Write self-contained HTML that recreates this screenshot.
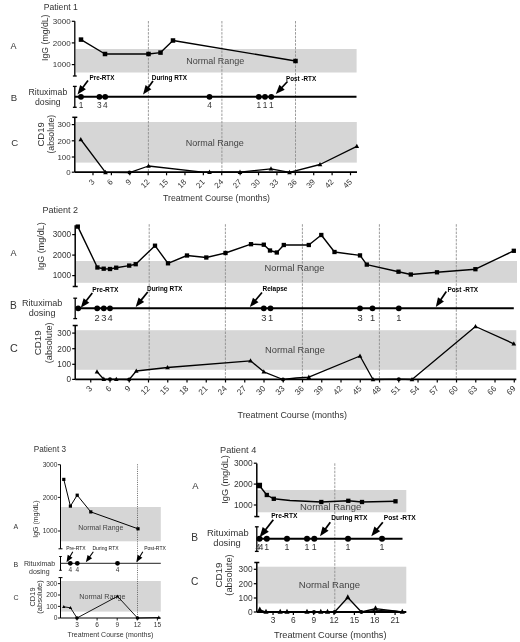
<!DOCTYPE html>
<html><head><meta charset="utf-8"><style>
html,body{margin:0;padding:0;background:#fff;}
svg{display:block;will-change:transform;font-family:"Liberation Sans",sans-serif;}
</style></head><body>
<svg width="520" height="642" viewBox="0 0 520 642">
<rect width="520" height="642" fill="#fff"/>
<rect x="75.50" y="49.00" width="281.10" height="23.50" fill="#d6d6d6"/>
<rect x="75.50" y="122.00" width="281.30" height="40.60" fill="#d6d6d6"/>
<rect x="75.90" y="261.00" width="441.10" height="21.80" fill="#d6d6d6"/>
<rect x="75.90" y="330.20" width="440.40" height="39.60" fill="#d6d6d6"/>
<rect x="61.10" y="507.00" width="99.70" height="34.30" fill="#d6d6d6"/>
<rect x="61.10" y="581.00" width="99.70" height="30.60" fill="#d6d6d6"/>
<rect x="257.50" y="490.00" width="148.80" height="22.30" fill="#d6d6d6"/>
<rect x="257.50" y="566.70" width="148.80" height="36.80" fill="#d6d6d6"/>
<text x="43.80" y="10.20" font-size="8.6" text-anchor="start" fill="#333">Patient 1</text>
<line x1="148.40" y1="21.00" x2="148.40" y2="172.00" stroke="#8a8a8a" stroke-width="0.85" stroke-dasharray="2.5,1.2"/>
<line x1="221.90" y1="21.00" x2="221.90" y2="172.00" stroke="#8a8a8a" stroke-width="0.85" stroke-dasharray="2.5,1.2"/>
<line x1="295.50" y1="21.00" x2="295.50" y2="172.00" stroke="#8a8a8a" stroke-width="0.85" stroke-dasharray="2.5,1.2"/>
<text x="186.20" y="64.20" font-size="9.0" text-anchor="start" fill="#444">Normal Range</text>
<text x="10.60" y="49.20" font-size="9" text-anchor="start" fill="#333">A</text>
<text x="48.40" y="37.70" font-size="8.7" text-anchor="middle" fill="#333" transform="rotate(-90 48.4 37.7)">IgG (mg/dL)</text>
<line x1="74.80" y1="21.30" x2="74.80" y2="76.00" stroke="#000" stroke-width="1.3"/>
<line x1="72.90" y1="76.00" x2="76.70" y2="76.00" stroke="#000" stroke-width="1.3"/>
<line x1="71.80" y1="21.30" x2="74.80" y2="21.30" stroke="#000" stroke-width="1.2"/>
<text x="70.60" y="24.10" font-size="8.0" text-anchor="end" fill="#333">3000</text>
<line x1="71.80" y1="42.90" x2="74.80" y2="42.90" stroke="#000" stroke-width="1.2"/>
<text x="70.60" y="45.70" font-size="8.0" text-anchor="end" fill="#333">2000</text>
<line x1="71.80" y1="64.60" x2="74.80" y2="64.60" stroke="#000" stroke-width="1.2"/>
<text x="70.60" y="67.40" font-size="8.0" text-anchor="end" fill="#333">1000</text>
<polyline points="81.00,39.60 105.00,54.00 148.50,54.00 160.50,52.60 173.00,40.50 295.50,61.00" fill="none" stroke="#000" stroke-width="1.4" stroke-linejoin="round"/>
<rect x="78.75" y="37.35" width="4.50" height="4.50" fill="#000"/>
<rect x="102.75" y="51.75" width="4.50" height="4.50" fill="#000"/>
<rect x="146.25" y="51.75" width="4.50" height="4.50" fill="#000"/>
<rect x="158.25" y="50.35" width="4.50" height="4.50" fill="#000"/>
<rect x="170.75" y="38.25" width="4.50" height="4.50" fill="#000"/>
<rect x="293.25" y="58.75" width="4.50" height="4.50" fill="#000"/>
<text x="10.80" y="100.70" font-size="9.6" text-anchor="start" fill="#333">B</text>
<text x="28.60" y="95.00" font-size="8.7" text-anchor="start" fill="#333">Rituximab</text>
<text x="35.00" y="105.20" font-size="8.7" text-anchor="start" fill="#333">dosing</text>
<line x1="74.80" y1="86.40" x2="74.80" y2="107.30" stroke="#000" stroke-width="1.3"/>
<line x1="72.90" y1="86.40" x2="76.70" y2="86.40" stroke="#000" stroke-width="1.3"/>
<line x1="72.90" y1="107.30" x2="76.70" y2="107.30" stroke="#000" stroke-width="1.3"/>
<line x1="74.80" y1="96.80" x2="356.50" y2="96.80" stroke="#000" stroke-width="2"/>
<circle cx="81.00" cy="96.80" r="2.90" fill="#000"/>
<circle cx="99.40" cy="96.80" r="2.90" fill="#000"/>
<circle cx="105.20" cy="96.80" r="2.90" fill="#000"/>
<circle cx="209.50" cy="96.80" r="2.90" fill="#000"/>
<circle cx="258.80" cy="96.80" r="2.90" fill="#000"/>
<circle cx="265.00" cy="96.80" r="2.90" fill="#000"/>
<circle cx="271.30" cy="96.80" r="2.90" fill="#000"/>
<text x="81.00" y="108.20" font-size="8.3" text-anchor="middle" fill="#333">1</text>
<text x="99.40" y="108.20" font-size="8.3" text-anchor="middle" fill="#333">3</text>
<text x="105.20" y="108.20" font-size="8.3" text-anchor="middle" fill="#333">4</text>
<text x="209.50" y="108.20" font-size="8.3" text-anchor="middle" fill="#333">4</text>
<text x="258.80" y="108.20" font-size="8.3" text-anchor="middle" fill="#333">1</text>
<text x="265.00" y="108.20" font-size="8.3" text-anchor="middle" fill="#333">1</text>
<text x="271.30" y="108.20" font-size="8.3" text-anchor="middle" fill="#333">1</text>
<text x="89.50" y="79.50" font-size="6.3" text-anchor="start" font-weight="bold" fill="#000">Pre-RTX</text>
<line x1="88.00" y1="80.50" x2="82.42" y2="87.94" stroke="#000" stroke-width="1.7"/>
<polygon points="77.50,94.50 80.14,84.98 85.90,89.30" fill="#000"/>
<text x="151.80" y="79.50" font-size="6.4" text-anchor="start" font-weight="bold" fill="#000">During RTX</text>
<line x1="153.00" y1="81.00" x2="147.88" y2="87.91" stroke="#000" stroke-width="1.7"/>
<polygon points="143.00,94.50 145.58,84.96 151.37,89.25" fill="#000"/>
<text x="286.00" y="80.50" font-size="6.3" text-anchor="start" font-weight="bold" fill="#000">Post -RTX</text>
<line x1="287.50" y1="81.50" x2="281.40" y2="88.01" stroke="#000" stroke-width="1.7"/>
<polygon points="275.80,94.00 279.46,84.82 284.72,89.74" fill="#000"/>
<text x="11.30" y="145.80" font-size="9.6" text-anchor="start" fill="#333">C</text>
<text x="44.30" y="134.40" font-size="9.5" text-anchor="middle" fill="#333" transform="rotate(-90 44.3 134.4)">CD19</text>
<text x="54.00" y="134.20" font-size="8.7" text-anchor="middle" fill="#333" transform="rotate(-90 54 134.2)">(absolute)</text>
<text x="185.70" y="146.00" font-size="9.0" text-anchor="start" fill="#444">Normal Range</text>
<line x1="74.80" y1="117.30" x2="74.80" y2="172.00" stroke="#000" stroke-width="1.5"/>
<line x1="72.30" y1="117.30" x2="77.30" y2="117.30" stroke="#000" stroke-width="1.5"/>
<line x1="71.80" y1="124.60" x2="74.80" y2="124.60" stroke="#000" stroke-width="1.2"/>
<text x="70.60" y="127.36" font-size="7.9" text-anchor="end" fill="#333">300</text>
<line x1="71.80" y1="140.80" x2="74.80" y2="140.80" stroke="#000" stroke-width="1.2"/>
<text x="70.60" y="143.56" font-size="7.9" text-anchor="end" fill="#333">200</text>
<line x1="71.80" y1="157.00" x2="74.80" y2="157.00" stroke="#000" stroke-width="1.2"/>
<text x="70.60" y="159.76" font-size="7.9" text-anchor="end" fill="#333">100</text>
<line x1="71.80" y1="172.20" x2="74.80" y2="172.20" stroke="#000" stroke-width="1.2"/>
<text x="70.60" y="174.96" font-size="7.9" text-anchor="end" fill="#333">0</text>
<line x1="74.80" y1="172.20" x2="357.00" y2="172.20" stroke="#000" stroke-width="1.8"/>
<line x1="92.99" y1="172.20" x2="92.99" y2="175.30" stroke="#000" stroke-width="1.2"/>
<text x="94.99" y="182.50" font-size="7.9" text-anchor="end" fill="#333" transform="rotate(-45 94.993 182.5)">3</text>
<line x1="111.39" y1="172.20" x2="111.39" y2="175.30" stroke="#000" stroke-width="1.2"/>
<text x="113.39" y="182.50" font-size="7.9" text-anchor="end" fill="#333" transform="rotate(-45 113.386 182.5)">6</text>
<line x1="129.78" y1="172.20" x2="129.78" y2="175.30" stroke="#000" stroke-width="1.2"/>
<text x="131.78" y="182.50" font-size="7.9" text-anchor="end" fill="#333" transform="rotate(-45 131.779 182.5)">9</text>
<line x1="148.17" y1="172.20" x2="148.17" y2="175.30" stroke="#000" stroke-width="1.2"/>
<text x="150.17" y="182.50" font-size="7.9" text-anchor="end" fill="#333" transform="rotate(-45 150.172 182.5)">12</text>
<line x1="166.56" y1="172.20" x2="166.56" y2="175.30" stroke="#000" stroke-width="1.2"/>
<text x="168.56" y="182.50" font-size="7.9" text-anchor="end" fill="#333" transform="rotate(-45 168.565 182.5)">15</text>
<line x1="184.96" y1="172.20" x2="184.96" y2="175.30" stroke="#000" stroke-width="1.2"/>
<text x="186.96" y="182.50" font-size="7.9" text-anchor="end" fill="#333" transform="rotate(-45 186.958 182.5)">18</text>
<line x1="203.35" y1="172.20" x2="203.35" y2="175.30" stroke="#000" stroke-width="1.2"/>
<text x="205.35" y="182.50" font-size="7.9" text-anchor="end" fill="#333" transform="rotate(-45 205.351 182.5)">21</text>
<line x1="221.74" y1="172.20" x2="221.74" y2="175.30" stroke="#000" stroke-width="1.2"/>
<text x="223.74" y="182.50" font-size="7.9" text-anchor="end" fill="#333" transform="rotate(-45 223.744 182.5)">24</text>
<line x1="240.14" y1="172.20" x2="240.14" y2="175.30" stroke="#000" stroke-width="1.2"/>
<text x="242.14" y="182.50" font-size="7.9" text-anchor="end" fill="#333" transform="rotate(-45 242.137 182.5)">27</text>
<line x1="258.53" y1="172.20" x2="258.53" y2="175.30" stroke="#000" stroke-width="1.2"/>
<text x="260.53" y="182.50" font-size="7.9" text-anchor="end" fill="#333" transform="rotate(-45 260.53 182.5)">30</text>
<line x1="276.92" y1="172.20" x2="276.92" y2="175.30" stroke="#000" stroke-width="1.2"/>
<text x="278.92" y="182.50" font-size="7.9" text-anchor="end" fill="#333" transform="rotate(-45 278.923 182.5)">33</text>
<line x1="295.32" y1="172.20" x2="295.32" y2="175.30" stroke="#000" stroke-width="1.2"/>
<text x="297.32" y="182.50" font-size="7.9" text-anchor="end" fill="#333" transform="rotate(-45 297.31600000000003 182.5)">36</text>
<line x1="313.71" y1="172.20" x2="313.71" y2="175.30" stroke="#000" stroke-width="1.2"/>
<text x="315.71" y="182.50" font-size="7.9" text-anchor="end" fill="#333" transform="rotate(-45 315.709 182.5)">39</text>
<line x1="332.10" y1="172.20" x2="332.10" y2="175.30" stroke="#000" stroke-width="1.2"/>
<text x="334.10" y="182.50" font-size="7.9" text-anchor="end" fill="#333" transform="rotate(-45 334.102 182.5)">42</text>
<line x1="350.50" y1="172.20" x2="350.50" y2="175.30" stroke="#000" stroke-width="1.2"/>
<text x="352.50" y="182.50" font-size="7.9" text-anchor="end" fill="#333" transform="rotate(-45 352.495 182.5)">45</text>
<polyline points="80.80,139.50 105.50,172.40 129.50,172.60 148.50,166.00 202.50,172.20 209.50,172.20 240.00,172.20 271.00,168.80 289.50,172.40 320.00,164.50 356.80,146.30" fill="none" stroke="#000" stroke-width="1.3" stroke-linejoin="round"/>
<polygon points="80.80,136.88 83.10,141.25 78.50,141.25" fill="#000"/>
<polygon points="105.50,169.78 107.80,174.15 103.20,174.15" fill="#000"/>
<polygon points="148.50,163.38 150.80,167.75 146.20,167.75" fill="#000"/>
<polygon points="209.50,169.58 211.80,173.95 207.20,173.95" fill="#000"/>
<polygon points="240.00,169.58 242.30,173.95 237.70,173.95" fill="#000"/>
<polygon points="271.00,166.18 273.30,170.55 268.70,170.55" fill="#000"/>
<polygon points="289.50,169.78 291.80,174.15 287.20,174.15" fill="#000"/>
<polygon points="320.00,161.88 322.30,166.25 317.70,166.25" fill="#000"/>
<polygon points="356.80,143.68 359.10,148.05 354.50,148.05" fill="#000"/>
<circle cx="129.50" cy="172.60" r="2.00" fill="#000"/>
<text x="163.00" y="200.80" font-size="8.74" text-anchor="start" fill="#333">Treatment Course (months)</text>
<text x="42.50" y="213.20" font-size="9.0" text-anchor="start" fill="#333">Patient 2</text>
<line x1="149.20" y1="224.20" x2="149.20" y2="379.30" stroke="#8a8a8a" stroke-width="0.85" stroke-dasharray="2.5,1.2"/>
<line x1="225.40" y1="224.20" x2="225.40" y2="379.30" stroke="#8a8a8a" stroke-width="0.85" stroke-dasharray="2.5,1.2"/>
<line x1="302.40" y1="224.20" x2="302.40" y2="379.30" stroke="#8a8a8a" stroke-width="0.85" stroke-dasharray="2.5,1.2"/>
<line x1="379.40" y1="224.20" x2="379.40" y2="379.30" stroke="#8a8a8a" stroke-width="0.85" stroke-dasharray="2.5,1.2"/>
<line x1="456.30" y1="224.20" x2="456.30" y2="379.30" stroke="#8a8a8a" stroke-width="0.85" stroke-dasharray="2.5,1.2"/>
<text x="264.50" y="271.30" font-size="9.3" text-anchor="start" fill="#444">Normal Range</text>
<text x="10.60" y="256.30" font-size="9" text-anchor="start" fill="#333">A</text>
<text x="44.20" y="246.30" font-size="9.0" text-anchor="middle" fill="#333" transform="rotate(-90 44.2 246.3)">IgG (mg/dL)</text>
<line x1="75.20" y1="225.30" x2="75.20" y2="286.50" stroke="#000" stroke-width="1.5"/>
<line x1="72.70" y1="286.50" x2="77.70" y2="286.50" stroke="#000" stroke-width="1.5"/>
<line x1="72.20" y1="234.60" x2="75.20" y2="234.60" stroke="#000" stroke-width="1.2"/>
<text x="71.00" y="237.47" font-size="8.2" text-anchor="end" fill="#333">3000</text>
<line x1="72.20" y1="255.10" x2="75.20" y2="255.10" stroke="#000" stroke-width="1.2"/>
<text x="71.00" y="257.97" font-size="8.2" text-anchor="end" fill="#333">2000</text>
<line x1="72.20" y1="275.60" x2="75.20" y2="275.60" stroke="#000" stroke-width="1.2"/>
<text x="71.00" y="278.47" font-size="8.2" text-anchor="end" fill="#333">1000</text>
<polyline points="77.80,226.60 97.40,267.50 103.70,268.70 110.00,269.00 116.20,267.70 129.20,265.60 135.70,264.20 155.00,245.70 168.00,263.30 187.00,255.50 206.30,257.50 225.50,253.00 251.00,244.20 263.80,244.70 270.00,250.50 276.80,252.50 283.80,245.00 308.80,245.00 321.30,235.00 334.50,252.00 360.00,255.40 366.80,264.60 398.50,271.70 410.80,274.50 437.00,272.30 475.40,269.20 513.80,250.80" fill="none" stroke="#000" stroke-width="1.4" stroke-linejoin="round"/>
<rect x="75.65" y="224.45" width="4.30" height="4.30" fill="#000"/>
<rect x="95.25" y="265.35" width="4.30" height="4.30" fill="#000"/>
<rect x="101.55" y="266.55" width="4.30" height="4.30" fill="#000"/>
<rect x="107.85" y="266.85" width="4.30" height="4.30" fill="#000"/>
<rect x="114.05" y="265.55" width="4.30" height="4.30" fill="#000"/>
<rect x="127.05" y="263.45" width="4.30" height="4.30" fill="#000"/>
<rect x="133.55" y="262.05" width="4.30" height="4.30" fill="#000"/>
<rect x="152.85" y="243.55" width="4.30" height="4.30" fill="#000"/>
<rect x="165.85" y="261.15" width="4.30" height="4.30" fill="#000"/>
<rect x="184.85" y="253.35" width="4.30" height="4.30" fill="#000"/>
<rect x="204.15" y="255.35" width="4.30" height="4.30" fill="#000"/>
<rect x="223.35" y="250.85" width="4.30" height="4.30" fill="#000"/>
<rect x="248.85" y="242.05" width="4.30" height="4.30" fill="#000"/>
<rect x="261.65" y="242.55" width="4.30" height="4.30" fill="#000"/>
<rect x="267.85" y="248.35" width="4.30" height="4.30" fill="#000"/>
<rect x="274.65" y="250.35" width="4.30" height="4.30" fill="#000"/>
<rect x="281.65" y="242.85" width="4.30" height="4.30" fill="#000"/>
<rect x="306.65" y="242.85" width="4.30" height="4.30" fill="#000"/>
<rect x="319.15" y="232.85" width="4.30" height="4.30" fill="#000"/>
<rect x="332.35" y="249.85" width="4.30" height="4.30" fill="#000"/>
<rect x="357.85" y="253.25" width="4.30" height="4.30" fill="#000"/>
<rect x="364.65" y="262.45" width="4.30" height="4.30" fill="#000"/>
<rect x="396.35" y="269.55" width="4.30" height="4.30" fill="#000"/>
<rect x="408.65" y="272.35" width="4.30" height="4.30" fill="#000"/>
<rect x="434.85" y="270.15" width="4.30" height="4.30" fill="#000"/>
<rect x="473.25" y="267.05" width="4.30" height="4.30" fill="#000"/>
<rect x="511.65" y="248.65" width="4.30" height="4.30" fill="#000"/>
<text x="10.00" y="309.30" font-size="10.2" text-anchor="start" fill="#333">B</text>
<text x="22.00" y="305.70" font-size="9.1" text-anchor="start" fill="#333">Rituximab</text>
<text x="28.70" y="315.80" font-size="9.1" text-anchor="start" fill="#333">dosing</text>
<line x1="75.20" y1="298.20" x2="75.20" y2="318.60" stroke="#000" stroke-width="1.3"/>
<line x1="73.30" y1="298.20" x2="77.10" y2="298.20" stroke="#000" stroke-width="1.3"/>
<line x1="73.30" y1="318.60" x2="77.10" y2="318.60" stroke="#000" stroke-width="1.3"/>
<line x1="75.20" y1="308.30" x2="513.80" y2="308.30" stroke="#000" stroke-width="2"/>
<circle cx="78.20" cy="308.30" r="2.90" fill="#000"/>
<circle cx="97.20" cy="308.30" r="2.90" fill="#000"/>
<circle cx="103.80" cy="308.30" r="2.90" fill="#000"/>
<circle cx="110.00" cy="308.30" r="2.90" fill="#000"/>
<circle cx="263.80" cy="308.30" r="2.90" fill="#000"/>
<circle cx="270.50" cy="308.30" r="2.90" fill="#000"/>
<circle cx="360.00" cy="308.30" r="2.90" fill="#000"/>
<circle cx="372.50" cy="308.30" r="2.90" fill="#000"/>
<circle cx="398.80" cy="308.30" r="2.90" fill="#000"/>
<text x="97.20" y="321.40" font-size="9.3" text-anchor="middle" fill="#333">2</text>
<text x="103.80" y="321.40" font-size="9.3" text-anchor="middle" fill="#333">3</text>
<text x="110.00" y="321.40" font-size="9.3" text-anchor="middle" fill="#333">4</text>
<text x="263.80" y="321.40" font-size="9.3" text-anchor="middle" fill="#333">3</text>
<text x="270.50" y="321.40" font-size="9.3" text-anchor="middle" fill="#333">1</text>
<text x="360.00" y="321.40" font-size="9.3" text-anchor="middle" fill="#333">3</text>
<text x="372.50" y="321.40" font-size="9.3" text-anchor="middle" fill="#333">1</text>
<text x="398.80" y="321.40" font-size="9.3" text-anchor="middle" fill="#333">1</text>
<text x="92.30" y="292.00" font-size="6.6" text-anchor="start" font-weight="bold" fill="#000">Pre-RTX</text>
<line x1="92.30" y1="293.00" x2="85.85" y2="301.24" stroke="#000" stroke-width="1.7"/>
<polygon points="80.80,307.70 83.63,298.24 89.30,302.67" fill="#000"/>
<text x="147.00" y="291.30" font-size="6.45" text-anchor="start" font-weight="bold" fill="#000">During RTX</text>
<line x1="147.70" y1="292.00" x2="140.75" y2="300.62" stroke="#000" stroke-width="1.7"/>
<polygon points="135.60,307.00 138.57,297.58 144.18,302.10" fill="#000"/>
<text x="262.50" y="290.80" font-size="6.5" text-anchor="start" font-weight="bold" fill="#000">Relapse</text>
<line x1="262.00" y1="292.50" x2="255.08" y2="300.73" stroke="#000" stroke-width="1.7"/>
<polygon points="249.80,307.00 252.97,297.64 258.48,302.28" fill="#000"/>
<text x="447.40" y="291.80" font-size="6.45" text-anchor="start" font-weight="bold" fill="#000">Post -RTX</text>
<line x1="446.30" y1="291.50" x2="440.40" y2="300.21" stroke="#000" stroke-width="1.7"/>
<polygon points="435.80,307.00 437.98,297.36 443.94,301.40" fill="#000"/>
<text x="9.90" y="352.20" font-size="10.8" text-anchor="start" fill="#333">C</text>
<text x="40.60" y="342.80" font-size="9.8" text-anchor="middle" fill="#333" transform="rotate(-90 40.6 342.8)">CD19</text>
<text x="51.60" y="342.80" font-size="9.2" text-anchor="middle" fill="#333" transform="rotate(-90 51.6 342.8)">(absolute)</text>
<text x="265.00" y="352.60" font-size="9.3" text-anchor="start" fill="#444">Normal Range</text>
<line x1="75.20" y1="325.50" x2="75.20" y2="379.30" stroke="#000" stroke-width="1.5"/>
<line x1="72.70" y1="325.50" x2="77.70" y2="325.50" stroke="#000" stroke-width="1.5"/>
<line x1="72.20" y1="333.10" x2="75.20" y2="333.10" stroke="#000" stroke-width="1.2"/>
<text x="71.00" y="335.97" font-size="8.2" text-anchor="end" fill="#333">300</text>
<line x1="72.20" y1="348.70" x2="75.20" y2="348.70" stroke="#000" stroke-width="1.2"/>
<text x="71.00" y="351.57" font-size="8.2" text-anchor="end" fill="#333">200</text>
<line x1="72.20" y1="364.30" x2="75.20" y2="364.30" stroke="#000" stroke-width="1.2"/>
<text x="71.00" y="367.17" font-size="8.2" text-anchor="end" fill="#333">100</text>
<line x1="72.20" y1="379.40" x2="75.20" y2="379.40" stroke="#000" stroke-width="1.2"/>
<text x="71.00" y="382.27" font-size="8.2" text-anchor="end" fill="#333">0</text>
<line x1="75.20" y1="379.40" x2="516.30" y2="379.40" stroke="#000" stroke-width="1.8"/>
<line x1="90.75" y1="379.40" x2="90.75" y2="382.50" stroke="#000" stroke-width="1.2"/>
<text x="92.75" y="389.00" font-size="8.2" text-anchor="end" fill="#333" transform="rotate(-45 92.751 389.0)">3</text>
<line x1="110.00" y1="379.40" x2="110.00" y2="382.50" stroke="#000" stroke-width="1.2"/>
<text x="112.00" y="389.00" font-size="8.2" text-anchor="end" fill="#333" transform="rotate(-45 112.002 389.0)">6</text>
<line x1="129.25" y1="379.40" x2="129.25" y2="382.50" stroke="#000" stroke-width="1.2"/>
<text x="131.25" y="389.00" font-size="8.2" text-anchor="end" fill="#333" transform="rotate(-45 131.253 389.0)">9</text>
<line x1="148.50" y1="379.40" x2="148.50" y2="382.50" stroke="#000" stroke-width="1.2"/>
<text x="150.50" y="389.00" font-size="8.2" text-anchor="end" fill="#333" transform="rotate(-45 150.504 389.0)">12</text>
<line x1="167.75" y1="379.40" x2="167.75" y2="382.50" stroke="#000" stroke-width="1.2"/>
<text x="169.75" y="389.00" font-size="8.2" text-anchor="end" fill="#333" transform="rotate(-45 169.755 389.0)">15</text>
<line x1="187.01" y1="379.40" x2="187.01" y2="382.50" stroke="#000" stroke-width="1.2"/>
<text x="189.01" y="389.00" font-size="8.2" text-anchor="end" fill="#333" transform="rotate(-45 189.006 389.0)">18</text>
<line x1="206.26" y1="379.40" x2="206.26" y2="382.50" stroke="#000" stroke-width="1.2"/>
<text x="208.26" y="389.00" font-size="8.2" text-anchor="end" fill="#333" transform="rotate(-45 208.257 389.0)">21</text>
<line x1="225.51" y1="379.40" x2="225.51" y2="382.50" stroke="#000" stroke-width="1.2"/>
<text x="227.51" y="389.00" font-size="8.2" text-anchor="end" fill="#333" transform="rotate(-45 227.50799999999998 389.0)">24</text>
<line x1="244.76" y1="379.40" x2="244.76" y2="382.50" stroke="#000" stroke-width="1.2"/>
<text x="246.76" y="389.00" font-size="8.2" text-anchor="end" fill="#333" transform="rotate(-45 246.759 389.0)">27</text>
<line x1="264.01" y1="379.40" x2="264.01" y2="382.50" stroke="#000" stroke-width="1.2"/>
<text x="266.01" y="389.00" font-size="8.2" text-anchor="end" fill="#333" transform="rotate(-45 266.01 389.0)">30</text>
<line x1="283.26" y1="379.40" x2="283.26" y2="382.50" stroke="#000" stroke-width="1.2"/>
<text x="285.26" y="389.00" font-size="8.2" text-anchor="end" fill="#333" transform="rotate(-45 285.26099999999997 389.0)">33</text>
<line x1="302.51" y1="379.40" x2="302.51" y2="382.50" stroke="#000" stroke-width="1.2"/>
<text x="304.51" y="389.00" font-size="8.2" text-anchor="end" fill="#333" transform="rotate(-45 304.512 389.0)">36</text>
<line x1="321.76" y1="379.40" x2="321.76" y2="382.50" stroke="#000" stroke-width="1.2"/>
<text x="323.76" y="389.00" font-size="8.2" text-anchor="end" fill="#333" transform="rotate(-45 323.76300000000003 389.0)">39</text>
<line x1="341.01" y1="379.40" x2="341.01" y2="382.50" stroke="#000" stroke-width="1.2"/>
<text x="343.01" y="389.00" font-size="8.2" text-anchor="end" fill="#333" transform="rotate(-45 343.014 389.0)">42</text>
<line x1="360.26" y1="379.40" x2="360.26" y2="382.50" stroke="#000" stroke-width="1.2"/>
<text x="362.26" y="389.00" font-size="8.2" text-anchor="end" fill="#333" transform="rotate(-45 362.265 389.0)">45</text>
<line x1="379.52" y1="379.40" x2="379.52" y2="382.50" stroke="#000" stroke-width="1.2"/>
<text x="381.52" y="389.00" font-size="8.2" text-anchor="end" fill="#333" transform="rotate(-45 381.51599999999996 389.0)">48</text>
<line x1="398.77" y1="379.40" x2="398.77" y2="382.50" stroke="#000" stroke-width="1.2"/>
<text x="400.77" y="389.00" font-size="8.2" text-anchor="end" fill="#333" transform="rotate(-45 400.767 389.0)">51</text>
<line x1="418.02" y1="379.40" x2="418.02" y2="382.50" stroke="#000" stroke-width="1.2"/>
<text x="420.02" y="389.00" font-size="8.2" text-anchor="end" fill="#333" transform="rotate(-45 420.018 389.0)">54</text>
<line x1="437.27" y1="379.40" x2="437.27" y2="382.50" stroke="#000" stroke-width="1.2"/>
<text x="439.27" y="389.00" font-size="8.2" text-anchor="end" fill="#333" transform="rotate(-45 439.269 389.0)">57</text>
<line x1="456.52" y1="379.40" x2="456.52" y2="382.50" stroke="#000" stroke-width="1.2"/>
<text x="458.52" y="389.00" font-size="8.2" text-anchor="end" fill="#333" transform="rotate(-45 458.52 389.0)">60</text>
<line x1="475.77" y1="379.40" x2="475.77" y2="382.50" stroke="#000" stroke-width="1.2"/>
<text x="477.77" y="389.00" font-size="8.2" text-anchor="end" fill="#333" transform="rotate(-45 477.771 389.0)">63</text>
<line x1="495.02" y1="379.40" x2="495.02" y2="382.50" stroke="#000" stroke-width="1.2"/>
<text x="497.02" y="389.00" font-size="8.2" text-anchor="end" fill="#333" transform="rotate(-45 497.022 389.0)">66</text>
<line x1="514.27" y1="379.40" x2="514.27" y2="382.50" stroke="#000" stroke-width="1.2"/>
<text x="516.27" y="389.00" font-size="8.2" text-anchor="end" fill="#333" transform="rotate(-45 516.2729999999999 389.0)">69</text>
<polyline points="97.00,371.80 103.80,379.20 110.00,379.30 116.30,379.30 129.20,379.50 136.30,371.00 167.50,367.50 250.50,360.80 263.80,371.80 283.00,379.50 296.30,378.00 308.80,377.20 360.00,356.00 373.00,379.50 398.80,379.20 412.00,379.50 475.50,326.50 513.80,343.80" fill="none" stroke="#000" stroke-width="1.3" stroke-linejoin="round"/>
<polygon points="97.00,369.18 99.30,373.55 94.70,373.55" fill="#000"/>
<polygon points="103.80,376.58 106.10,380.95 101.50,380.95" fill="#000"/>
<polygon points="116.30,376.68 118.60,381.05 114.00,381.05" fill="#000"/>
<polygon points="136.30,368.38 138.60,372.75 134.00,372.75" fill="#000"/>
<polygon points="167.50,364.88 169.80,369.25 165.20,369.25" fill="#000"/>
<polygon points="250.50,358.18 252.80,362.55 248.20,362.55" fill="#000"/>
<polygon points="263.80,369.18 266.10,373.55 261.50,373.55" fill="#000"/>
<polygon points="308.80,374.58 311.10,378.95 306.50,378.95" fill="#000"/>
<polygon points="360.00,353.38 362.30,357.75 357.70,357.75" fill="#000"/>
<polygon points="373.00,376.88 375.30,381.25 370.70,381.25" fill="#000"/>
<polygon points="412.00,376.88 414.30,381.25 409.70,381.25" fill="#000"/>
<polygon points="475.50,323.88 477.80,328.25 473.20,328.25" fill="#000"/>
<polygon points="513.80,341.18 516.10,345.55 511.50,345.55" fill="#000"/>
<circle cx="110.00" cy="379.30" r="2.00" fill="#000"/>
<circle cx="129.20" cy="379.50" r="2.00" fill="#000"/>
<circle cx="283.00" cy="379.50" r="2.00" fill="#000"/>
<circle cx="398.80" cy="379.20" r="2.00" fill="#000"/>
<text x="237.50" y="417.60" font-size="8.95" text-anchor="start" fill="#333">Treatment Course (months)</text>
<text x="33.70" y="452.10" font-size="8.2" text-anchor="start" fill="#333">Patient 3</text>
<line x1="137.50" y1="464.30" x2="137.50" y2="618.00" stroke="#444" stroke-width="0.8" stroke-dasharray="1,1.2"/>
<text x="78.20" y="529.50" font-size="7.0" text-anchor="start" fill="#444">Normal Range</text>
<text x="13.40" y="528.80" font-size="7" text-anchor="start" fill="#333">A</text>
<text x="38.30" y="519.10" font-size="7.0" text-anchor="middle" fill="#333" transform="rotate(-90 38.3 519.1)">IgG (mg/dL)</text>
<line x1="60.50" y1="464.70" x2="60.50" y2="548.80" stroke="#000" stroke-width="1.0"/>
<line x1="58.50" y1="548.80" x2="62.50" y2="548.80" stroke="#000" stroke-width="1.0"/>
<line x1="57.90" y1="464.70" x2="60.50" y2="464.70" stroke="#000" stroke-width="0.9"/>
<text x="57.30" y="467.01" font-size="6.6" text-anchor="end" fill="#333">3000</text>
<line x1="57.90" y1="497.40" x2="60.50" y2="497.40" stroke="#000" stroke-width="0.9"/>
<text x="57.30" y="499.71" font-size="6.6" text-anchor="end" fill="#333">2000</text>
<line x1="57.90" y1="531.00" x2="60.50" y2="531.00" stroke="#000" stroke-width="0.9"/>
<text x="57.30" y="533.31" font-size="6.6" text-anchor="end" fill="#333">1000</text>
<polyline points="63.80,479.40 70.40,506.10 77.20,495.20 90.80,511.90 138.00,528.80" fill="none" stroke="#000" stroke-width="1.0" stroke-linejoin="round"/>
<rect x="62.20" y="477.80" width="3.20" height="3.20" fill="#000"/>
<rect x="68.80" y="504.50" width="3.20" height="3.20" fill="#000"/>
<rect x="75.60" y="493.60" width="3.20" height="3.20" fill="#000"/>
<rect x="89.20" y="510.30" width="3.20" height="3.20" fill="#000"/>
<rect x="136.40" y="527.20" width="3.20" height="3.20" fill="#000"/>
<text x="13.60" y="567.20" font-size="7" text-anchor="start" fill="#333">B</text>
<text x="24.00" y="565.60" font-size="7.0" text-anchor="start" fill="#333">Rituximab</text>
<text x="29.00" y="573.80" font-size="7.0" text-anchor="start" fill="#333">dosing</text>
<line x1="60.50" y1="556.50" x2="60.50" y2="570.30" stroke="#000" stroke-width="1.0"/>
<line x1="59.20" y1="556.50" x2="61.80" y2="556.50" stroke="#000" stroke-width="1.0"/>
<line x1="59.20" y1="570.30" x2="61.80" y2="570.30" stroke="#000" stroke-width="1.0"/>
<line x1="60.50" y1="563.30" x2="160.80" y2="563.30" stroke="#222" stroke-width="1.0"/>
<circle cx="70.30" cy="563.30" r="2.40" fill="#000"/>
<circle cx="77.30" cy="563.30" r="2.40" fill="#000"/>
<circle cx="117.50" cy="563.30" r="2.40" fill="#000"/>
<text x="70.30" y="571.50" font-size="6.5" text-anchor="middle" fill="#333">4</text>
<text x="77.30" y="571.50" font-size="6.5" text-anchor="middle" fill="#333">4</text>
<text x="117.50" y="571.50" font-size="6.5" text-anchor="middle" fill="#333">4</text>
<text x="66.20" y="550.00" font-size="5.0" text-anchor="start" fill="#111">Pre-RTX</text>
<line x1="72.80" y1="551.80" x2="69.59" y2="557.16" stroke="#000" stroke-width="1.1"/>
<polygon points="66.50,562.30 67.70,554.86 72.50,557.74" fill="#000"/>
<text x="92.50" y="550.00" font-size="5.0" text-anchor="start" fill="#111">During RTX</text>
<line x1="93.30" y1="551.80" x2="89.29" y2="557.42" stroke="#000" stroke-width="1.1"/>
<polygon points="85.80,562.30 87.59,554.98 92.15,558.23" fill="#000"/>
<text x="144.20" y="550.00" font-size="5.0" text-anchor="start" fill="#111">Post-RTX</text>
<line x1="142.80" y1="551.80" x2="139.46" y2="557.20" stroke="#000" stroke-width="1.1"/>
<polygon points="136.30,562.30 137.60,554.87 142.37,557.82" fill="#000"/>
<text x="13.50" y="599.50" font-size="7" text-anchor="start" fill="#333">C</text>
<text x="34.50" y="597.00" font-size="7.5" text-anchor="middle" fill="#333" transform="rotate(-90 34.5 597)">CD19</text>
<text x="41.50" y="597.00" font-size="7.5" text-anchor="middle" fill="#333" transform="rotate(-90 41.5 597)">(absolute)</text>
<text x="79.20" y="599.30" font-size="7.2" text-anchor="start" fill="#444">Normal Range</text>
<line x1="60.50" y1="577.60" x2="60.50" y2="618.00" stroke="#000" stroke-width="1.0"/>
<line x1="58.50" y1="577.60" x2="62.50" y2="577.60" stroke="#000" stroke-width="1.0"/>
<line x1="57.90" y1="583.60" x2="60.50" y2="583.60" stroke="#000" stroke-width="0.9"/>
<text x="57.30" y="585.91" font-size="6.6" text-anchor="end" fill="#333">300</text>
<line x1="57.90" y1="595.00" x2="60.50" y2="595.00" stroke="#000" stroke-width="0.9"/>
<text x="57.30" y="597.31" font-size="6.6" text-anchor="end" fill="#333">200</text>
<line x1="57.90" y1="606.40" x2="60.50" y2="606.40" stroke="#000" stroke-width="0.9"/>
<text x="57.30" y="608.71" font-size="6.6" text-anchor="end" fill="#333">100</text>
<line x1="57.90" y1="618.00" x2="60.50" y2="618.00" stroke="#000" stroke-width="0.9"/>
<text x="57.30" y="620.31" font-size="6.6" text-anchor="end" fill="#333">0</text>
<line x1="60.50" y1="618.00" x2="160.80" y2="618.00" stroke="#000" stroke-width="1.1"/>
<line x1="77.00" y1="618.00" x2="77.00" y2="620.50" stroke="#000" stroke-width="0.9"/>
<text x="77.00" y="627.00" font-size="6.5" text-anchor="middle" fill="#333">3</text>
<line x1="97.10" y1="618.00" x2="97.10" y2="620.50" stroke="#000" stroke-width="0.9"/>
<text x="97.10" y="627.00" font-size="6.5" text-anchor="middle" fill="#333">6</text>
<line x1="117.20" y1="618.00" x2="117.20" y2="620.50" stroke="#000" stroke-width="0.9"/>
<text x="117.20" y="627.00" font-size="6.5" text-anchor="middle" fill="#333">9</text>
<line x1="137.30" y1="618.00" x2="137.30" y2="620.50" stroke="#000" stroke-width="0.9"/>
<text x="137.30" y="627.00" font-size="6.5" text-anchor="middle" fill="#333">12</text>
<line x1="157.40" y1="618.00" x2="157.40" y2="620.50" stroke="#000" stroke-width="0.9"/>
<text x="157.40" y="627.00" font-size="6.5" text-anchor="middle" fill="#333">15</text>
<polyline points="63.80,606.80 70.50,607.80 77.00,618.00 117.50,596.30 137.50,618.00 158.80,617.50" fill="none" stroke="#000" stroke-width="0.9" stroke-linejoin="round"/>
<polygon points="63.80,604.92 65.45,608.05 62.15,608.05" fill="#000"/>
<polygon points="70.50,605.92 72.15,609.05 68.85,609.05" fill="#000"/>
<polygon points="117.50,594.42 119.15,597.55 115.85,597.55" fill="#000"/>
<polygon points="158.80,615.62 160.45,618.75 157.15,618.75" fill="#000"/>
<circle cx="77.00" cy="618.00" r="1.80" fill="#000"/>
<circle cx="137.50" cy="618.00" r="1.80" fill="#000"/>
<text x="67.50" y="637.20" font-size="7.0" text-anchor="start" fill="#333">Treatment Course (months)</text>
<text x="220.00" y="452.80" font-size="9.2" text-anchor="start" fill="#333">Patient 4</text>
<line x1="334.80" y1="463.30" x2="334.80" y2="612.00" stroke="#8a8a8a" stroke-width="0.85" stroke-dasharray="2.5,1.2"/>
<text x="300.00" y="509.50" font-size="9.5" text-anchor="start" fill="#444">Normal Range</text>
<text x="192.30" y="489.30" font-size="9.4" text-anchor="start" fill="#333">A</text>
<text x="227.60" y="479.40" font-size="9.1" text-anchor="middle" fill="#333" transform="rotate(-90 227.6 479.4)">IgG (mg/dL)</text>
<line x1="256.80" y1="463.50" x2="256.80" y2="516.60" stroke="#000" stroke-width="1.5"/>
<line x1="254.30" y1="516.60" x2="259.30" y2="516.60" stroke="#000" stroke-width="1.5"/>
<line x1="253.80" y1="463.20" x2="256.80" y2="463.20" stroke="#000" stroke-width="1.2"/>
<text x="252.60" y="466.14" font-size="8.4" text-anchor="end" fill="#333">3000</text>
<line x1="253.80" y1="484.10" x2="256.80" y2="484.10" stroke="#000" stroke-width="1.2"/>
<text x="252.60" y="487.04" font-size="8.4" text-anchor="end" fill="#333">2000</text>
<line x1="253.80" y1="505.00" x2="256.80" y2="505.00" stroke="#000" stroke-width="1.2"/>
<text x="252.60" y="507.94" font-size="8.4" text-anchor="end" fill="#333">1000</text>
<polyline points="259.30,485.50 266.80,495.00 273.80,498.80 290.00,500.50 321.30,502.00 348.30,500.80 362.00,502.00 395.50,501.30" fill="none" stroke="#000" stroke-width="1.4" stroke-linejoin="round"/>
<rect x="256.55" y="482.75" width="5.50" height="5.50" fill="#000"/>
<rect x="264.65" y="492.85" width="4.30" height="4.30" fill="#000"/>
<rect x="271.65" y="496.65" width="4.30" height="4.30" fill="#000"/>
<rect x="319.15" y="499.85" width="4.30" height="4.30" fill="#000"/>
<rect x="346.15" y="498.65" width="4.30" height="4.30" fill="#000"/>
<rect x="359.85" y="499.85" width="4.30" height="4.30" fill="#000"/>
<rect x="393.35" y="499.15" width="4.30" height="4.30" fill="#000"/>
<text x="191.20" y="541.20" font-size="10.2" text-anchor="start" fill="#333">B</text>
<text x="207.00" y="535.80" font-size="9.4" text-anchor="start" fill="#333">Rituximab</text>
<text x="213.20" y="546.30" font-size="9.4" text-anchor="start" fill="#333">dosing</text>
<line x1="256.80" y1="526.80" x2="256.80" y2="551.40" stroke="#000" stroke-width="1.3"/>
<line x1="254.90" y1="526.80" x2="258.70" y2="526.80" stroke="#000" stroke-width="1.3"/>
<line x1="254.90" y1="551.40" x2="258.70" y2="551.40" stroke="#000" stroke-width="1.3"/>
<line x1="256.80" y1="538.80" x2="402.50" y2="538.80" stroke="#000" stroke-width="2"/>
<circle cx="259.50" cy="538.80" r="3.00" fill="#000"/>
<circle cx="266.80" cy="538.80" r="3.00" fill="#000"/>
<circle cx="287.00" cy="538.80" r="3.00" fill="#000"/>
<circle cx="307.00" cy="538.80" r="3.00" fill="#000"/>
<circle cx="314.30" cy="538.80" r="3.00" fill="#000"/>
<circle cx="348.00" cy="538.80" r="3.00" fill="#000"/>
<circle cx="382.00" cy="538.80" r="3.00" fill="#000"/>
<text x="258.00" y="549.80" font-size="8.8" text-anchor="middle" fill="#333">4</text>
<text x="261.00" y="549.80" font-size="8.8" text-anchor="middle" fill="#333">4</text>
<text x="266.80" y="549.80" font-size="8.8" text-anchor="middle" fill="#333">1</text>
<text x="287.00" y="549.80" font-size="8.8" text-anchor="middle" fill="#333">1</text>
<text x="307.00" y="549.80" font-size="8.8" text-anchor="middle" fill="#333">1</text>
<text x="314.30" y="549.80" font-size="8.8" text-anchor="middle" fill="#333">1</text>
<text x="348.00" y="549.80" font-size="8.8" text-anchor="middle" fill="#333">1</text>
<text x="382.00" y="549.80" font-size="8.8" text-anchor="middle" fill="#333">1</text>
<text x="271.20" y="517.60" font-size="6.65" text-anchor="start" font-weight="bold" fill="#000">Pre-RTX</text>
<line x1="273.30" y1="519.80" x2="265.15" y2="530.21" stroke="#000" stroke-width="1.8"/>
<polygon points="259.60,537.30 262.69,527.02 268.84,531.83" fill="#000"/>
<text x="331.20" y="520.00" font-size="6.6" text-anchor="start" font-weight="bold" fill="#000">During RTX</text>
<line x1="330.30" y1="522.20" x2="325.01" y2="529.44" stroke="#000" stroke-width="1.8"/>
<polygon points="320.00,536.30 322.62,526.45 328.59,530.81" fill="#000"/>
<text x="383.80" y="520.00" font-size="6.7" text-anchor="start" font-weight="bold" fill="#000">Post -RTX</text>
<line x1="382.80" y1="522.20" x2="376.67" y2="529.71" stroke="#000" stroke-width="1.8"/>
<polygon points="371.30,536.30 374.44,526.60 380.17,531.28" fill="#000"/>
<text x="191.00" y="585.40" font-size="10.2" text-anchor="start" fill="#333">C</text>
<text x="221.70" y="575.00" font-size="9.8" text-anchor="middle" fill="#333" transform="rotate(-90 221.7 575)">CD19</text>
<text x="232.40" y="575.00" font-size="9.3" text-anchor="middle" fill="#333" transform="rotate(-90 232.4 575)">(absolute)</text>
<text x="298.80" y="588.00" font-size="9.5" text-anchor="start" fill="#444">Normal Range</text>
<line x1="256.80" y1="562.50" x2="256.80" y2="612.00" stroke="#000" stroke-width="1.5"/>
<line x1="254.30" y1="562.50" x2="259.30" y2="562.50" stroke="#000" stroke-width="1.5"/>
<line x1="253.80" y1="569.30" x2="256.80" y2="569.30" stroke="#000" stroke-width="1.2"/>
<text x="252.60" y="572.24" font-size="8.4" text-anchor="end" fill="#333">300</text>
<line x1="253.80" y1="583.70" x2="256.80" y2="583.70" stroke="#000" stroke-width="1.2"/>
<text x="252.60" y="586.64" font-size="8.4" text-anchor="end" fill="#333">200</text>
<line x1="253.80" y1="598.00" x2="256.80" y2="598.00" stroke="#000" stroke-width="1.2"/>
<text x="252.60" y="600.94" font-size="8.4" text-anchor="end" fill="#333">100</text>
<line x1="253.80" y1="612.00" x2="256.80" y2="612.00" stroke="#000" stroke-width="1.2"/>
<text x="252.60" y="614.94" font-size="8.4" text-anchor="end" fill="#333">0</text>
<line x1="256.80" y1="612.00" x2="406.30" y2="612.00" stroke="#000" stroke-width="1.8"/>
<line x1="273.04" y1="612.00" x2="273.04" y2="615.00" stroke="#000" stroke-width="1.2"/>
<text x="273.04" y="622.50" font-size="8.4" text-anchor="middle" fill="#333">3</text>
<line x1="293.38" y1="612.00" x2="293.38" y2="615.00" stroke="#000" stroke-width="1.2"/>
<text x="293.38" y="622.50" font-size="8.4" text-anchor="middle" fill="#333">6</text>
<line x1="313.72" y1="612.00" x2="313.72" y2="615.00" stroke="#000" stroke-width="1.2"/>
<text x="313.72" y="622.50" font-size="8.4" text-anchor="middle" fill="#333">9</text>
<line x1="334.06" y1="612.00" x2="334.06" y2="615.00" stroke="#000" stroke-width="1.2"/>
<text x="334.06" y="622.50" font-size="8.4" text-anchor="middle" fill="#333">12</text>
<line x1="354.40" y1="612.00" x2="354.40" y2="615.00" stroke="#000" stroke-width="1.2"/>
<text x="354.40" y="622.50" font-size="8.4" text-anchor="middle" fill="#333">15</text>
<line x1="374.74" y1="612.00" x2="374.74" y2="615.00" stroke="#000" stroke-width="1.2"/>
<text x="374.74" y="622.50" font-size="8.4" text-anchor="middle" fill="#333">18</text>
<line x1="395.08" y1="612.00" x2="395.08" y2="615.00" stroke="#000" stroke-width="1.2"/>
<text x="395.08" y="622.50" font-size="8.4" text-anchor="middle" fill="#333">21</text>
<polyline points="259.80,609.80 266.00,612.00 280.20,612.00 287.00,612.00 307.00,612.00 314.00,612.00 320.80,612.00 327.50,612.00 334.60,612.00 347.80,597.50 361.40,612.00 375.50,608.60 402.30,612.00" fill="none" stroke="#000" stroke-width="1.3" stroke-linejoin="round"/>
<polyline points="361.40,612.00 375.50,610.30 395.00,611.00 402.30,612.00" fill="none" stroke="#000" stroke-width="1.0" stroke-linejoin="round"/>
<polygon points="259.80,606.54 262.40,611.48 257.20,611.48" fill="#000"/>
<polygon points="266.00,608.74 268.60,613.68 263.40,613.68" fill="#000"/>
<polygon points="280.20,608.74 282.80,613.68 277.60,613.68" fill="#000"/>
<polygon points="287.00,608.74 289.60,613.68 284.40,613.68" fill="#000"/>
<polygon points="307.00,608.74 309.60,613.68 304.40,613.68" fill="#000"/>
<polygon points="320.80,608.74 323.40,613.68 318.20,613.68" fill="#000"/>
<polygon points="327.50,608.74 330.10,613.68 324.90,613.68" fill="#000"/>
<polygon points="347.80,594.24 350.40,599.18 345.20,599.18" fill="#000"/>
<polygon points="375.50,605.34 378.10,610.28 372.90,610.28" fill="#000"/>
<polygon points="402.30,608.74 404.90,613.68 399.70,613.68" fill="#000"/>
<circle cx="314.00" cy="612.00" r="2.00" fill="#000"/>
<circle cx="334.60" cy="612.00" r="2.00" fill="#000"/>
<circle cx="361.40" cy="612.00" r="2.00" fill="#000"/>
<text x="274.00" y="637.80" font-size="9.2" text-anchor="start" fill="#333">Treatment Course (months)</text>
</svg></body></html>
